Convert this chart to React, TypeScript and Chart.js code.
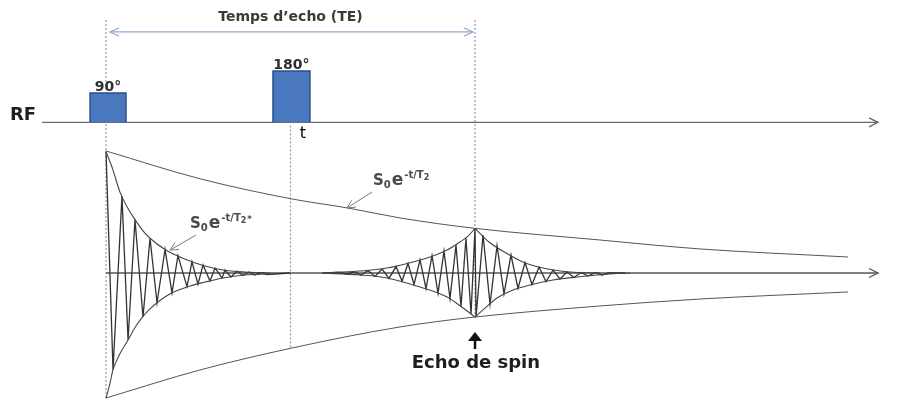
import React, { useEffect, useRef } from "react";
import { Chart, registerables } from "chart.js";
Chart.register(...registerables);

const W = 897;
const H = 401;

// Time axis in ms (90° pulse at t = 0, echo at TE = 40 ms); amplitude normalised to S0.
const X_MIN = -11.491;
const X_MAX = 85.745;
const Y_MIN = -1.0323;
const Y_MAX = 2.2016;

const TE = 40;
const rfLevel = 1.215;
const rfStart = -6.94;
const axisEnd = 83.69;

// RF pulses
const pulseLabels = ["90°", "180°"];
const pulseStart = [-1.73, 18.1];
const pulseEnd = [2.17, 22.11];
const pulseTop = [1.452, 1.629];

// T2 envelope (upper / lower)
const t2UpT = [0, 10.19, 20.16, 26.23, 31.87, 40, 53.55, 64.39, 80.43];
const t2UpA = [0.984, 0.76, 0.597, 0.524, 0.444, 0.36, 0.266, 0.194, 0.129];
const t2LoT = [0, 10.19, 20.16, 31.87, 40, 53.55, 64.39, 80.43];
const t2LoA = [-1.008, -0.782, -0.605, -0.435, -0.355, -0.266, -0.21, -0.153];

// T2* envelope of the FID
const fidUpT = [0, 0.76, 1.52, 2.39, 3.14, 4.01, 4.77, 6.4, 8.02, 9.11, 10.73, 12.68, 15.07, 17.78];
const fidUpA = [0.98, 0.83, 0.65, 0.52, 0.43, 0.34, 0.28, 0.19, 0.13, 0.097, 0.056, 0.024, 0.008, 0];
const fidLoT = [0, 0.43, 0.76, 1.52, 2.39, 3.14, 3.9, 4.77, 5.53, 7.15, 9.11, 10.73, 12.68, 15.07, 17.78];
const fidLoA = [-1.01, -0.89, -0.78, -0.65, -0.54, -0.44, -0.36, -0.29, -0.24, -0.16, -0.105, -0.073, -0.04, -0.016, -0.008];

// FID oscillation vertices
const fidT = [0, 0.76, 1.73, 2.39, 3.14, 4.01, 4.77, 5.53, 6.4, 7.15, 7.8, 8.78, 9.32, 9.97, 10.52, 11.27, 11.82, 12.58, 12.9, 13.55, 14.2, 14.85, 15.5, 16.15, 16.8, 17.45, 19.95];
const fidA = [0.98, -0.78, 0.62, -0.54, 0.43, -0.355, 0.28, -0.24, 0.19, -0.16, 0.14, -0.11, 0.09, -0.09, 0.065, -0.065, 0.04, -0.04, 0.024, -0.032, 0.016, -0.02, 0.008, -0.016, 0.004, -0.012, 0];

// Echo envelopes
const echoUpLT = [23.41, 27.53, 30.46, 33.28, 35.45, 36.97, 38.37, 39.24, 40];
const echoUpLA = [0, 0.016, 0.04, 0.089, 0.137, 0.185, 0.25, 0.298, 0.36];
const echoUpRT = [40, 41.52, 43.36, 45.2, 47.37, 50.3, 53.55];
const echoUpRA = [0.36, 0.25, 0.161, 0.089, 0.04, 0.008, 0];
const echoLoLT = [23.41, 27.53, 30.46, 34.04, 36.97, 38.7, 40];
const echoLoLA = [0, -0.016, -0.04, -0.113, -0.194, -0.282, -0.355];
const echoLoRT = [40, 40.87, 42.39, 44.12, 45.96, 48.46, 51.06, 54.64, 56.8];
const echoLoRA = [-0.355, -0.298, -0.202, -0.137, -0.097, -0.056, -0.032, -0.008, 0];

// Echo oscillation vertices
const echoT = [23.74, 25.37, 26.12, 26.88, 27.64, 28.4, 29.16, 29.92, 30.68, 31.44, 32.09, 32.74, 33.39, 34.04, 34.69, 35.34, 35.99, 36.64, 37.29, 37.94, 38.48, 39.02, 39.57, 40.0, 40.11, 40.87, 41.63, 42.39, 43.14, 43.9, 44.66, 45.42, 46.18, 46.94, 47.7, 48.46, 49.21, 49.97, 50.73, 51.49, 52.25, 53.01, 53.77, 54.53, 56.26];
const echoA = [0, 0.004, -0.008, 0.01, -0.016, 0.02, -0.028, 0.032, -0.044, 0.052, -0.065, 0.077, -0.093, 0.105, -0.125, 0.141, -0.165, 0.177, -0.206, 0.225, -0.27, 0.28, -0.33, 0.36, -0.355, 0.306, -0.25, 0.22, -0.169, 0.145, -0.125, 0.085, -0.093, 0.048, -0.069, 0.024, -0.048, 0.008, -0.036, 0.004, -0.024, 0.002, -0.016, 0, 0];

// Dotted marker lines: time, top, bottom
const markT = [0, 20, TE];
const markTop = [2.04, 1.19, 2.04];
const markBottom = [-1.008, -0.605, -0.363];

const teArrowLevel = 1.944;
const teArrowFrom = 0.43;
const teArrowTo = 39.78;

const pts = (ts: number[], as: number[]) => ts.map((t, i) => ({ x: t, y: as[i] }));

function head(ctx: CanvasRenderingContext2D, x1: number, y1: number, x2: number, y2: number, len: number, half: number, filled: boolean, color: string, lw: number) {
  const ang = Math.atan2(y2 - y1, x2 - x1);
  const bx = x2 - len * Math.cos(ang);
  const by = y2 - len * Math.sin(ang);
  const nx = -Math.sin(ang) * half;
  const ny = Math.cos(ang) * half;
  ctx.save();
  ctx.strokeStyle = color;
  ctx.fillStyle = color;
  ctx.lineWidth = lw;
  ctx.beginPath();
  ctx.moveTo(bx + nx, by + ny);
  ctx.lineTo(x2, y2);
  ctx.lineTo(bx - nx, by - ny);
  if (filled) {
    ctx.closePath();
    ctx.fill();
  } else {
    ctx.stroke();
  }
  ctx.restore();
}

function sLabel(ctx: CanvasRenderingContext2D, x: number, yb: number, star: boolean) {
  const F = '"DejaVu Sans", sans-serif';
  ctx.save();
  ctx.fillStyle = "#4a4a4a";
  ctx.textBaseline = "alphabetic";
  ctx.textAlign = "left";
  let cx = x;
  ctx.font = `bold 15px ${F}`;
  ctx.fillText("S", cx, yb);
  cx += ctx.measureText("S").width;
  ctx.font = `bold 10px ${F}`;
  ctx.fillText("0", cx, yb + 3);
  cx += ctx.measureText("0").width + 1;
  ctx.font = `bold 17px ${F}`;
  ctx.fillText("e", cx, yb);
  cx += ctx.measureText("e").width + 1;
  ctx.font = `bold 10px ${F}`;
  ctx.fillText("-t/T", cx, yb - 7);
  cx += ctx.measureText("-t/T").width;
  ctx.font = `bold 8px ${F}`;
  ctx.fillText("2", cx, yb - 5);
  cx += ctx.measureText("2").width + 1;
  if (star) {
    ctx.font = `bold 9px ${F}`;
    ctx.fillText("*", cx, yb - 6);
  }
  ctx.restore();
}

const annotations = {
  id: "annotations",
  afterDatasetsDraw(chart: any) {
    const ctx: CanvasRenderingContext2D = chart.ctx;
    const px = (t: number) => chart.scales.x.getPixelForValue(t);
    const py = (a: number) => chart.scales.y.getPixelForValue(a);
    const F = '"DejaVu Sans", sans-serif';

    // axis arrow heads
    head(ctx, px(axisEnd) - 10, py(rfLevel), px(axisEnd), py(rfLevel), 9, 4.5, false, "#666", 1.3);
    head(ctx, px(axisEnd) - 10, py(0), px(axisEnd), py(0), 9, 4.5, false, "#555", 1.3);
    // TE arrows
    head(ctx, px(teArrowTo), py(teArrowLevel), px(teArrowFrom), py(teArrowLevel), 9, 4, false, "#8fa8c8", 1.2);
    head(ctx, px(teArrowFrom), py(teArrowLevel), px(teArrowTo), py(teArrowLevel), 9, 4, false, "#8fa8c8", 1.2);

    ctx.save();
    ctx.fillStyle = "#1e1e1e";
    ctx.textBaseline = "middle";
    ctx.textAlign = "left";
    ctx.font = `bold 18px ${F}`;
    ctx.fillText("RF", px(-10.41), py(1.274));

    ctx.fillStyle = "#3a3a3a";
    ctx.textAlign = "center";
    ctx.font = `bold 14px ${F}`;
    ctx.fillText("Temps d’echo (TE)", px(20), py(2.06));

    ctx.textBaseline = "alphabetic";
    ctx.fillStyle = "#2e2e2e";
    ctx.font = `bold 14px ${F}`;
    pulseLabels.forEach((lab, i) => {
      const c = (pulseStart[i] + pulseEnd[i]) / 2;
      ctx.fillText(lab, px(c), py(pulseTop[i]) - 2);
    });

    ctx.fillStyle = "#000";
    ctx.textAlign = "left";
    ctx.textBaseline = "middle";
    ctx.font = `16px ${F}`;
    ctx.fillText("t", px(21.0), py(1.121));

    ctx.fillStyle = "#1e1e1e";
    ctx.textAlign = "center";
    ctx.font = `bold 18px ${F}`;
    ctx.fillText("Echo de spin", px(40.1), py(-0.726));
    ctx.restore();

    // formula labels + their arrows
    sLabel(ctx, px(28.94), py(0.71), false);
    sLabel(ctx, px(9.11), py(0.363), true);
    ctx.save();
    ctx.strokeStyle = "#7a7a7a";
    ctx.lineWidth = 1;
    ctx.beginPath();
    ctx.moveTo(px(28.84), py(0.653));
    ctx.lineTo(px(26.12), py(0.524));
    ctx.moveTo(px(9.76), py(0.306));
    ctx.lineTo(px(6.94), py(0.185));
    ctx.stroke();
    ctx.restore();
    head(ctx, px(28.84), py(0.653), px(26.12), py(0.524), 8, 4, false, "#7a7a7a", 1);
    head(ctx, px(9.76), py(0.306), px(6.94), py(0.185), 8, 4, false, "#7a7a7a", 1);

    // echo up arrow
    ctx.save();
    ctx.strokeStyle = "#111";
    ctx.lineWidth = 2.5;
    ctx.beginPath();
    ctx.moveTo(px(TE), py(-0.613));
    ctx.lineTo(px(TE), py(-0.52));
    ctx.stroke();
    ctx.restore();
    head(ctx, px(TE), py(-0.613), px(TE), py(-0.476), 9, 7, true, "#111", 1);
  },
};

export default function App() {
  const ref = useRef<HTMLCanvasElement>(null);
  useEffect(() => {
    const canvas = ref.current;
    if (!canvas) return;
    const line = (data: any[], color: string, width: number, extra: any = {}) => ({
      type: "line",
      data,
      borderColor: color,
      borderWidth: width,
      pointRadius: 0,
      fill: false,
      tension: 0,
      order: 1,
      ...extra,
    });
    const smooth = { cubicInterpolationMode: "monotone" };
    const datasets: any[] = [];
    markT.forEach((t, i) => {
      datasets.push(line([{ x: t, y: markTop[i] }, { x: t, y: markBottom[i] }], "#8f9bb0", 1.2, { borderDash: [2, 2], order: 6 }));
    });
    datasets.push(line([{ x: rfStart, y: rfLevel }, { x: axisEnd, y: rfLevel }], "#6a6a6a", 1.4, { order: 4 }));
    datasets.push(line([{ x: 0, y: 0 }, { x: axisEnd, y: 0 }], "#555", 1.4, { order: 4 }));
    datasets.push(line([{ x: teArrowFrom, y: teArrowLevel }, { x: teArrowTo, y: teArrowLevel }], "#8fa8c8", 1.2, { order: 4 }));
    pulseLabels.forEach((_, i) => {
      datasets.push(
        line(
          [
            { x: pulseStart[i], y: rfLevel },
            { x: pulseStart[i], y: pulseTop[i] },
            { x: pulseEnd[i], y: pulseTop[i] },
            { x: pulseEnd[i], y: rfLevel },
          ],
          "#2d508a",
          1.5,
          { fill: { value: rfLevel }, backgroundColor: "#4a78be", order: 3 }
        )
      );
    });
    datasets.push(line(pts(t2UpT, t2UpA), "#555", 1, smooth));
    datasets.push(line(pts(t2LoT, t2LoA), "#555", 1, smooth));
    datasets.push(line(pts(fidUpT, fidUpA), "#444", 1.1, smooth));
    datasets.push(line(pts(fidLoT, fidLoA), "#444", 1.1, smooth));
    datasets.push(line(pts(echoUpLT, echoUpLA), "#444", 1.1, smooth));
    datasets.push(line(pts(echoUpRT, echoUpRA), "#444", 1.1, smooth));
    datasets.push(line(pts(echoLoLT, echoLoLA), "#444", 1.1, smooth));
    datasets.push(line(pts(echoLoRT, echoLoRA), "#444", 1.1, smooth));
    datasets.push(line(pts(fidT, fidA), "#333", 1.3));
    datasets.push(line(pts(echoT, echoA), "#333", 1.3));

    const chart = new Chart(canvas, {
      type: "line",
      data: { datasets },
      options: {
        responsive: false,
        maintainAspectRatio: false,
        animation: false,
        events: [],
        layout: { padding: 0 },
        parsing: false as any,
        normalized: true,
        plugins: { legend: { display: false }, tooltip: { enabled: false } },
        scales: {
          x: { type: "linear", min: X_MIN, max: X_MAX, display: false },
          y: { type: "linear", min: Y_MIN, max: Y_MAX, display: false },
        },
      },
      plugins: [annotations],
    } as any);
    return () => chart.destroy();
  }, []);
  return (
    <div style={{ position: "fixed", left: 0, top: 0, width: W, height: H, background: "#fff" }}>
      <canvas ref={ref} width={W} height={H} style={{ display: "block", width: W, height: H }} />
    </div>
  );
}
